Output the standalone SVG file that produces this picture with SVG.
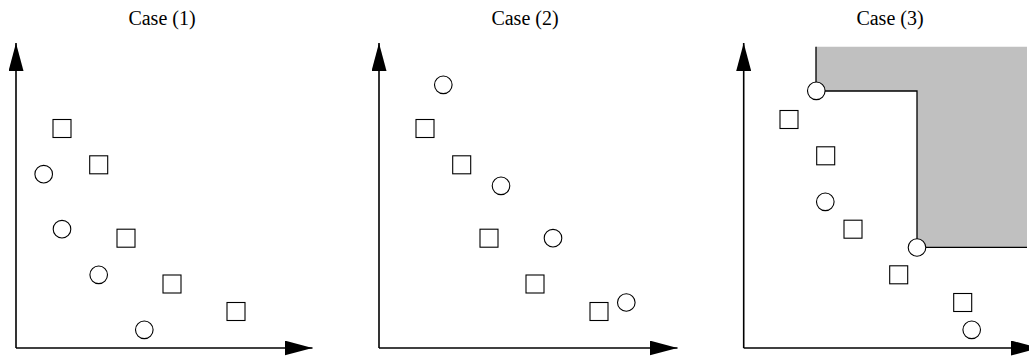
<svg xmlns="http://www.w3.org/2000/svg" width="1029" height="356" viewBox="0 0 1029 356">
<style>
.t{font-family:"Liberation Serif","Times New Roman",serif;font-size:20px;fill:#000;text-anchor:middle}
.ax{stroke:#000;stroke-width:1.6;fill:none}
.sq{fill:#fff;stroke:#000;stroke-width:1.1}
.ci{fill:#fff;stroke:#000;stroke-width:1.1}
.bd{stroke:#000;stroke-width:1.3;fill:none}
</style>
<defs>
<marker id="arr" markerUnits="userSpaceOnUse" markerWidth="29" markerHeight="15" refX="28" refY="7.5" orient="auto" viewBox="0 0 29 15">
<path d="M0,0 L28,7.5 L0,15 z" fill="#000"/>
</marker>
</defs>
<rect width="1029" height="356" fill="#fff"/>
<g id="dominated-region">
<path d="M816,46.7 L1027,46.7 L1027,247.3 L917,247.3 L917,91 L816,91 Z" fill="#c0c0c0"/>
<path class="bd" d="M816,46.7 L816,91 L917,91 L917,247.3 L1027,247.3"/>
</g>
<g id="connectors">
<path class="ax" d="M16,348 L16,43" marker-end="url(#arr)"/>
<path class="ax" d="M16,348 L312.5,348" marker-end="url(#arr)"/>
<path class="ax" d="M379,348 L379,43" marker-end="url(#arr)"/>
<path class="ax" d="M379,348 L677.5,348" marker-end="url(#arr)"/>
<path class="ax" d="M743.7,348 L743.7,43" marker-end="url(#arr)"/>
<path class="ax" d="M743.7,348 L1039,348" marker-end="url(#arr)"/>
</g>
<g id="titles">
<text class="t" x="162" y="25">Case (1)</text>
<text class="t" x="525" y="25">Case (2)</text>
<text class="t" x="890" y="25">Case (3)</text>
</g>
<g id="case1">
<g id="c1-s1"><rect class="sq" x="53" y="119.5" width="18" height="18"/></g>
<g id="c1-s2"><rect class="sq" x="89.7" y="155.8" width="18" height="18"/></g>
<g id="c1-s3"><rect class="sq" x="117" y="229.2" width="18" height="18"/></g>
<g id="c1-s4"><rect class="sq" x="163" y="275" width="18" height="18"/></g>
<g id="c1-s5"><rect class="sq" x="227" y="302.5" width="18" height="18"/></g>
<g id="c1-c1"><circle class="ci" cx="43.7" cy="174.2" r="8.8"/></g>
<g id="c1-c2"><circle class="ci" cx="62" cy="229.2" r="8.8"/></g>
<g id="c1-c3"><circle class="ci" cx="98.7" cy="274.8" r="8.8"/></g>
<g id="c1-c4"><circle class="ci" cx="144.3" cy="329.8" r="8.8"/></g>
</g>
<g id="case2">
<g id="c2-s1"><rect class="sq" x="416" y="119.5" width="18" height="18"/></g>
<g id="c2-s2"><rect class="sq" x="452.7" y="155.8" width="18" height="18"/></g>
<g id="c2-s3"><rect class="sq" x="480" y="229.2" width="18" height="18"/></g>
<g id="c2-s4"><rect class="sq" x="526" y="275" width="18" height="18"/></g>
<g id="c2-s5"><rect class="sq" x="590" y="302.5" width="18" height="18"/></g>
<g id="c2-c1"><circle class="ci" cx="443.3" cy="84.8" r="8.8"/></g>
<g id="c2-c2"><circle class="ci" cx="501" cy="185.8" r="8.8"/></g>
<g id="c2-c3"><circle class="ci" cx="553" cy="238.2" r="8.8"/></g>
<g id="c2-c4"><circle class="ci" cx="626.3" cy="302.5" r="8.8"/></g>
</g>
<g id="case3">
<g id="c3-s1"><rect class="sq" x="780" y="110.5" width="18" height="18"/></g>
<g id="c3-s2"><rect class="sq" x="816.7" y="146.8" width="18" height="18"/></g>
<g id="c3-s3"><rect class="sq" x="844" y="220.2" width="18" height="18"/></g>
<g id="c3-s4"><rect class="sq" x="889.7" y="265.8" width="18" height="18"/></g>
<g id="c3-s5"><rect class="sq" x="953.7" y="293.5" width="18" height="18"/></g>
<g id="c3-c1"><circle class="ci" cx="816.3" cy="90.8" r="8.8"/></g>
<g id="c3-c2"><circle class="ci" cx="825.3" cy="201.8" r="8.8"/></g>
<g id="c3-c3"><circle class="ci" cx="917" cy="247.5" r="8.8"/></g>
<g id="c3-c4"><circle class="ci" cx="971.7" cy="329.8" r="8.8"/></g>
</g>
</svg>
